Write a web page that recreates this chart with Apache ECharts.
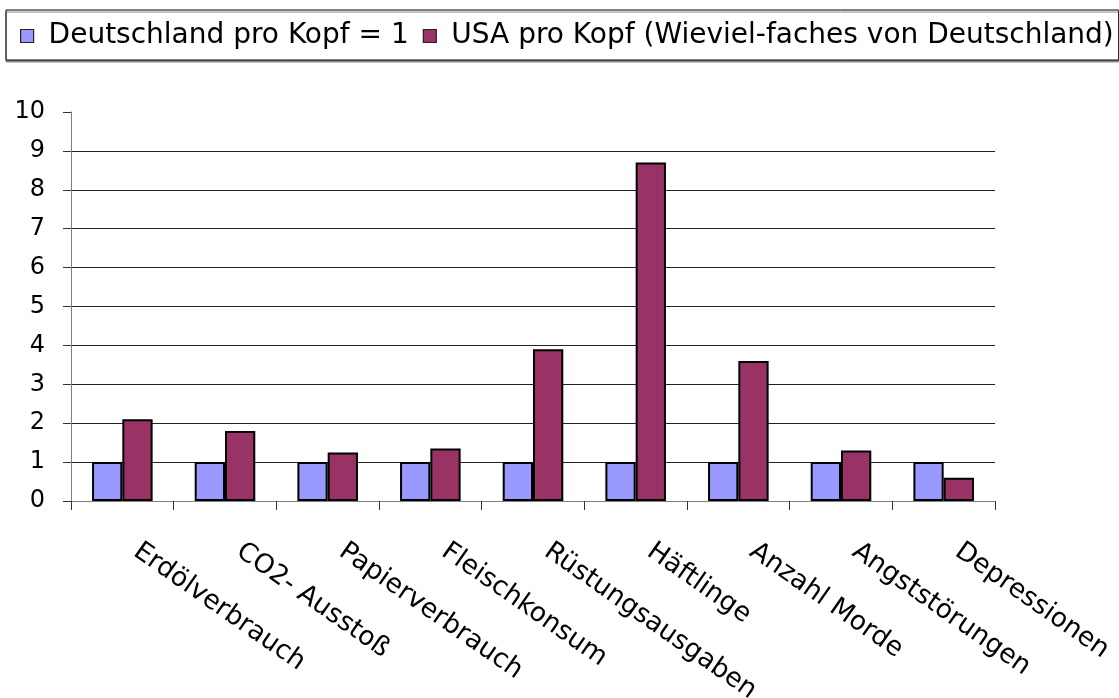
<!DOCTYPE html>
<html><head><meta charset="utf-8">
<script src="https://cdn.jsdelivr.net/npm/echarts@6/dist/echarts.min.js"></script>
<style>html,body{margin:0;padding:0;background:#fff}#c{width:1119px;height:698px}</style>
</head><body><div id="c"></div>
<script>
const categories = ["Erdölverbrauch","CO2- Ausstoß","Papierverbrauch","Fleischkonsum","Rüstungsausgaben","Häftlinge","Anzahl Morde","Angststörungen","Depressionen"];
const seriesNames = ["Deutschland pro Kopf = 1","USA pro Kopf (Wieviel-faches von Deutschland)"];
const germany = [1,1,1,1,1,1,1,1,1];
const usa = [2.1,1.8,1.25,1.35,3.9,8.7,3.6,1.3,0.6];
const yTicks = [0,1,2,3,4,5,6,7,8,9,10];

const font = "'DejaVu Sans', 'Liberation Sans', Arial, sans-serif";
const chart = echarts.init(document.getElementById('c'), null, {renderer:'canvas'});
chart.setOption({
  animation:false,
  backgroundColor:'#fff',
  legend:{
    left:6, top:10,
    padding:[12,5,10,14],
    itemGap:14,
    itemWidth:13, itemHeight:13,
    icon:'rect',
    borderColor:'#000', borderWidth:1,
    backgroundColor:'#fff',
    shadowColor:'#888', shadowOffsetX:0, shadowOffsetY:2, shadowBlur:0,
    textStyle:{fontFamily:font, fontSize:28, color:'#000', padding:[0,0,0,10]},
    itemStyle:{borderColor:'#222', borderWidth:1.2},
    data:seriesNames
  },
  grid:{left:71, right:124, top:112, bottom:197, containLabel:false, outerBoundsMode:'none'},
  xAxis:{
    type:'category', data:categories,
    axisLine:{lineStyle:{color:'#808080', width:1}},
    axisTick:{show:true, length:9, lineStyle:{color:'#333'}},
    axisLabel:{rotate:-35, fontFamily:font, fontSize:26.5, color:'#000', margin:38, interval:0, padding:[0,0,0,17], hideOverlap:false}
  },
  yAxis:{
    type:'value', min:0, max:10, interval:1,
    axisLine:{show:true, lineStyle:{color:'#808080', width:1}},
    axisTick:{show:true, length:8, lineStyle:{color:'#333'}},
    axisLabel:{fontFamily:font, fontSize:24, color:'#000', margin:26,
      formatter:v=>yTicks.includes(v)?String(v):''},
    splitLine:{show:true, showMaxLine:false, lineStyle:{color:'#222', width:1}}
  },
  series:[
    {name:seriesNames[0], type:'bar', data:germany, barGap:'0%', barCategoryGap:'41%',
     itemStyle:{color:'#9999FF', borderColor:'#000', borderWidth:2}},
    {name:seriesNames[1], type:'bar', data:usa, barGap:'0%', barCategoryGap:'41%',
     itemStyle:{color:'#993366', borderColor:'#000', borderWidth:2}}
  ]
});
</script></body></html>
